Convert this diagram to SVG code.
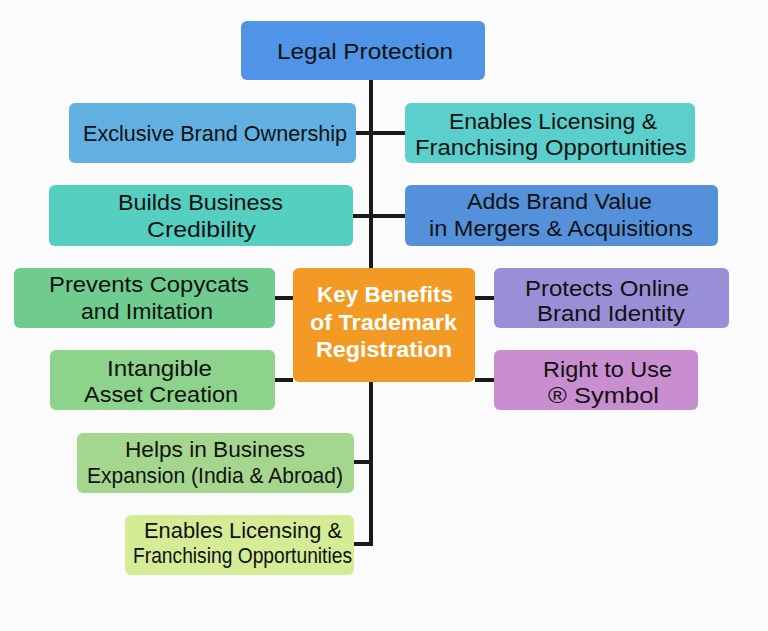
<svg xmlns="http://www.w3.org/2000/svg" width="768" height="631" viewBox="0 0 768 631">
<style>
.box{stroke:none}
.t{font-family:"Liberation Sans",Arial,sans-serif;font-size:22px;fill:#111}
.w{fill:#fff;font-size:22px;font-weight:bold}
.c{stroke:#1a1a1a;stroke-width:4;fill:none}
</style>
<rect width="768" height="631" fill="#fbfbfb"/>
<g id="connectors">
<line class="c" x1="371" y1="80" x2="371" y2="546"/>
<line class="c" x1="355" y1="133" x2="405" y2="133"/>
<line class="c" x1="353" y1="216" x2="405" y2="216"/>
<line class="c" x1="275" y1="298" x2="293" y2="298"/>
<line class="c" x1="475" y1="298" x2="494" y2="298"/>
<line class="c" x1="274" y1="380" x2="293" y2="380"/>
<line class="c" x1="475" y1="380" x2="494" y2="380"/>
<line class="c" x1="354" y1="462" x2="371" y2="462"/>
<line class="c" x1="354" y1="544" x2="371" y2="544"/>
</g>
<g id="legal">
<rect class="box" x="241" y="21" width="244" height="59" rx="6" fill="#4F94E6"/>
<text class="t" x="277" y="59" font-size="24" textLength="176" lengthAdjust="spacingAndGlyphs">Legal Protection</text>
</g>
<g id="exclusive">
<rect class="box" x="69" y="103" width="287" height="60" rx="6" fill="#62B0E2"/>
<text class="t" x="83" y="141" textLength="264" lengthAdjust="spacingAndGlyphs">Exclusive Brand Ownership</text>
</g>
<g id="licensing-top">
<rect class="box" x="405" y="103" width="290" height="60" rx="6" fill="#5BCFCB"/>
<text class="t" x="449" y="129" textLength="208" lengthAdjust="spacingAndGlyphs">Enables Licensing &amp;</text>
<text class="t" x="415" y="155" textLength="272" lengthAdjust="spacingAndGlyphs">Franchising Opportunities</text>
</g>
<g id="credibility">
<rect class="box" x="49" y="185" width="304" height="61" rx="6" fill="#55CFC0"/>
<text class="t" x="118" y="210" textLength="165" lengthAdjust="spacingAndGlyphs">Builds Business</text>
<text class="t" x="147" y="237" textLength="109" lengthAdjust="spacingAndGlyphs">Credibility</text>
</g>
<g id="brand-value">
<rect class="box" x="405" y="185" width="313" height="61" rx="6" fill="#5491DA"/>
<text class="t" x="467" y="209" textLength="185" lengthAdjust="spacingAndGlyphs">Adds Brand Value</text>
<text class="t" x="429" y="236" textLength="264" lengthAdjust="spacingAndGlyphs">in Mergers &amp; Acquisitions</text>
</g>
<g id="copycats">
<rect class="box" x="14" y="268" width="261" height="60" rx="6" fill="#6FCB8E"/>
<text class="t" x="49" y="292" textLength="200" lengthAdjust="spacingAndGlyphs">Prevents Copycats</text>
<text class="t" x="81" y="319" textLength="132" lengthAdjust="spacingAndGlyphs">and Imitation</text>
</g>
<g id="center">
<rect class="box" x="293" y="268" width="182" height="114" rx="6" fill="#F39A24"/>
<text class="t w" x="317" y="302" textLength="136" lengthAdjust="spacingAndGlyphs">Key Benefits</text>
<text class="t w" x="310" y="330" textLength="147" lengthAdjust="spacingAndGlyphs">of Trademark</text>
<text class="t w" x="316" y="357" textLength="136" lengthAdjust="spacingAndGlyphs">Registration</text>
</g>
<g id="online">
<rect class="box" x="494" y="268" width="235" height="60" rx="6" fill="#998FD6"/>
<text class="t" x="525" y="296" textLength="164" lengthAdjust="spacingAndGlyphs">Protects Online</text>
<text class="t" x="537" y="321" textLength="148" lengthAdjust="spacingAndGlyphs">Brand Identity</text>
</g>
<g id="intangible">
<rect class="box" x="50" y="350" width="225" height="60" rx="6" fill="#8ED38C"/>
<text class="t" x="107" y="376" textLength="105" lengthAdjust="spacingAndGlyphs">Intangible</text>
<text class="t" x="84" y="402" textLength="154" lengthAdjust="spacingAndGlyphs">Asset Creation</text>
</g>
<g id="symbol">
<rect class="box" x="494" y="350" width="204" height="60" rx="6" fill="#C88ECF"/>
<text class="t" x="543" y="377" textLength="129" lengthAdjust="spacingAndGlyphs">Right to Use</text>
<text class="t" x="548" y="403" textLength="111" lengthAdjust="spacingAndGlyphs">® Symbol</text>
</g>
<g id="expansion">
<rect class="box" x="77" y="433" width="277" height="60" rx="6" fill="#A5D68E"/>
<text class="t" x="125" y="457" textLength="180" lengthAdjust="spacingAndGlyphs">Helps in Business</text>
<text class="t" x="87" y="483" textLength="256" lengthAdjust="spacingAndGlyphs">Expansion (India &amp; Abroad)</text>
</g>
<g id="licensing-bottom">
<rect class="box" x="125" y="515" width="229" height="60" rx="6" fill="#D5EC97"/>
<text class="t" x="144" y="538" textLength="198" lengthAdjust="spacingAndGlyphs">Enables Licensing &amp;</text>
<text class="t" x="133" y="563" textLength="219" lengthAdjust="spacingAndGlyphs">Franchising Opportunities</text>
</g>
</svg>
